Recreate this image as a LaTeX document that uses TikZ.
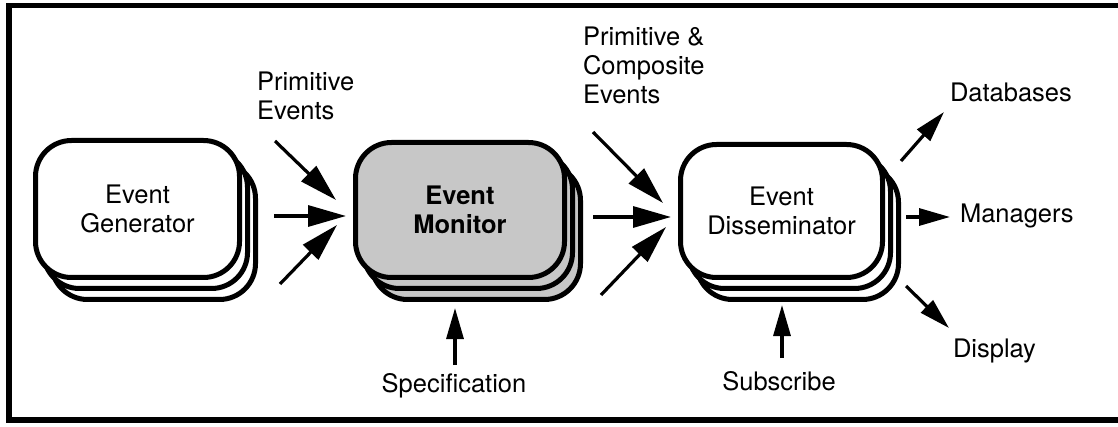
\documentclass[tikz,border=0pt]{standalone}
\usepackage{fontspec}
\setmainfont{TeX Gyre Heros}
\usetikzlibrary{arrows.meta,backgrounds}
\begin{document}
\begin{tikzpicture}[x=1pt,y=-1pt,
  every node/.style={font=\fontsize{25.5}{29}\selectfont, inner sep=0pt, outer sep=0pt},
  stage/.style={draw, line width=5pt, rounded corners=36pt, fill=white, align=center},
  monfill/.style={fill=black!22},
  tag/.style={align=left},
  feed/.style={line width=3.2pt, -{Triangle[length=38pt,width=21pt]}},
  outflow/.style={line width=3.2pt, -{Triangle[length=31pt,width=17pt]}},
  frame/.style={line width=5.5pt}
]
\useasboundingbox (0,0) rectangle (1118,427);

% outer frame, open on the right
\coordinate (fr1) at (1118,5.5);
\coordinate (fr2) at (9,5.5);
\coordinate (fr3) at (9,420);
\coordinate (fr4) at (1118,420);
\draw[frame] (fr1) -- (fr2) -- (fr3) -- (fr4);

% the three stages
\node[stage, minimum width=204pt, minimum height=137pt] (gen) at (137.5,209) {Event\\Generator};
\node[stage, monfill, font=\fontsize{25.5}{29}\selectfont\bfseries,
      minimum width=209pt, minimum height=135pt] (mon) at (460,210) {Event\\Monitor};
\node[stage, minimum width=202pt, minimum height=133pt] (dis) at (781.5,211) {Event\\Disseminator};

% stacked copies behind each stage
\begin{scope}[on background layer]
  \foreach \n/\f in {gen/white, mon/black!22, dis/white} {
    \foreach \s in {2,1} {
      \draw[line width=5pt, rounded corners=36pt, fill=\f]
        ([shift={(8*\s,11*\s)}]\n.south west) rectangle ([shift={(8*\s,11*\s)}]\n.north east);
    }
  }
\end{scope}

% labels
\node[tag, anchor=west] (primev) at (257,96) {Primitive\\Events};
\node[tag, anchor=west] (compev) at (583,65) {Primitive \&\\Composite\\Events};
\node[anchor=west] (db) at (950,92) {Databases};
\node[anchor=west] (mgr) at (960,216) {Managers};
\node[anchor=west] (disp) at (953,351) {Display};
\node (spec) at (454,386) {Specification};
\node (subs) at (779,381) {Subscribe};

% arrow end points
\coordinate (m1s) at (275,141);  \coordinate (m1t) at (336,200);
\coordinate (m2s) at (274,216);  \coordinate (m2t) at (346,216);
\coordinate (m3s) at (280,284);  \coordinate (m3t) at (337,225);
\coordinate (d1s) at (593,132);  \coordinate (d1t) at (663,203);
\coordinate (d2s) at (593,217);  \coordinate (d2t) at (671,217);
\coordinate (d3s) at (601,295);  \coordinate (d3t) at (666,227);
\coordinate (o1s) at (901,161);  \coordinate (o1t) at (944,112);
\coordinate (o2s) at (906,217);  \coordinate (o2t) at (950,217);
\coordinate (o3s) at (906,286);  \coordinate (o3t) at (949,328);
\coordinate (sps) at (455,365);  \coordinate (spt) at (455,308);
\coordinate (sbs) at (782,358);  \coordinate (sbt) at (782,305);

% events flowing in
\draw[feed] (m1s) -- (m1t);
\draw[feed] (m2s) -- (m2t);
\draw[feed] (m3s) -- (m3t);
\draw[feed] (d1s) -- (d1t);
\draw[feed] (d2s) -- (d2t);
\draw[feed] (d3s) -- (d3t);

% dissemination targets and control inputs
\draw[outflow] (o1s) -- (o1t);
\draw[outflow] (o2s) -- (o2t);
\draw[outflow] (o3s) -- (o3t);
\draw[outflow] (sps) -- (spt);
\draw[outflow] (sbs) -- (sbt);
\end{tikzpicture}
\end{document}
